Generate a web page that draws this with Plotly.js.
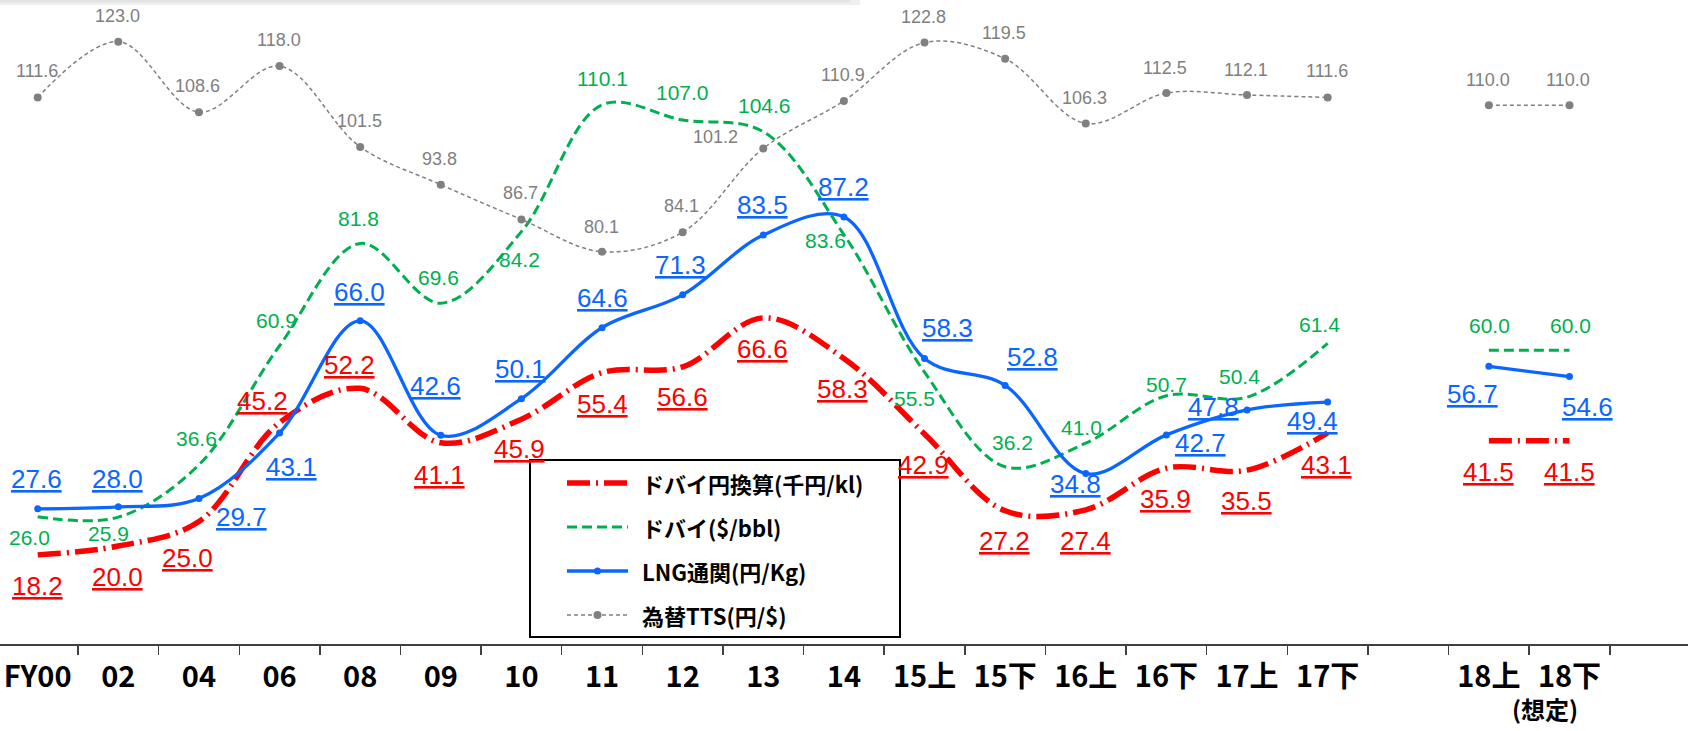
<!DOCTYPE html>
<html>
<head>
<meta charset="utf-8">
<script src="https://cdn.plot.ly/plotly-3.0.1.min.js"></script>
<style>
html,body{margin:0;padding:0;background:#ffffff;}
#chart{width:1694px;height:731px;}
</style>
</head>
<body>
<div id="chart"></div>
<script>
// ---------- data ----------
const categories = ['FY00','02','04','06','08','09','10','11','12','13','14','15上','15下','16上','16下','17上','17下',' ','18上','18下'];
const dubaiYen = [18.2,20.0,25.0,45.2,52.2,41.1,45.9,55.4,56.6,66.6,58.3,42.9,27.2,27.4,35.9,35.5,43.1,null,41.5,41.5];
const dubaiUsd = [26.0,25.9,36.6,60.9,81.8,69.6,84.2,110.1,107.0,104.6,83.6,55.5,36.2,41.0,50.7,50.4,61.4,null,60.0,60.0];
const lngPrice = [27.6,28.0,29.7,43.1,66.0,42.6,50.1,64.6,71.3,83.5,87.2,58.3,52.8,34.8,42.7,47.8,49.4,null,56.7,54.6];
const ttsRate  = [111.6,123.0,108.6,118.0,101.5,93.8,86.7,80.1,84.1,101.2,110.9,122.8,119.5,106.3,112.5,112.1,111.6,null,110.0,110.0];
const seriesNames = ['ドバイ円換算(千円/kl)','ドバイ($/bbl)','LNG通関(円/Kg)','為替TTS(円/$)'];
const footnoteText = '(想定)';

// ---------- label placement (pixel offsets dx, dy; dy positive = down) ----------
const offRed = [[0,31],[-1,31],[-11,36],[-17,-22],[-11,-23],[-1,32],[-2,30],[0,31],[0,30],[-1,31],[-1,31],[-1,31],[-1,30],[0,31],[-1,31],[-1,31],[-1,32],null,[0,31],[0,31]];
const offGreen = [[-8,21],[-10,16],[-2,-26],[-3,-25],[-2,-25],[-2,-26],[-2,28],[0,-26],[0,-27],[1,-26],[-18,6],[-10,26],[7,-24],[-4,-16],[0,-11],[-8,-21],[-8,-19],null,[1,-25],[1,-25]];
const offBlue = [[-1,-30],[-1,-28],[43,18],[12,34],[-1,-29],[-5,-49],[-1,-30],[0,-30],[-2,-30],[-1,-30],[0,-30],[23,-30],[27,-28],[-10,10],[34,8],[-34,-3],[-15,19],null,[-16,28],[18,30]];
const offGray = [[-1,-26],[-1,-26],[-1,-26],[-1,-26],[-1,-26],[-1,-26],[-1,-26],[-1,-25],[-1,-26],[-48,-11],[-1,-26],[-1,-26],[-1,-26],[-1,-25],[-1,-25],[-1,-25],[-1,-26],null,[-1,-25],[-1,-25]];

const RED = '#ff0000', GREEN = '#00b050', BLUE = '#0a66ff', GRAY = '#808080';
const NUMFONT = 'Liberation Sans, Arial, sans-serif';
const JPFONT = 'Noto Sans CJK JP, sans-serif';

const W = 1694, H = 731, ML = 0, MR = 6, MT = 0, MB = 87;
const PW = W - ML - MR, PH = H - MT - MB;
const px2x = p => (p - ML) / PW;
const px2y = p => 1 - (p - MT) / PH;

const redDash = '23px,6px,2px,6px';
const greenDash = '10px,5px';
const grayDash = '4px,3px';

const traces = [
  {x: categories, y: dubaiYen, name: seriesNames[0], type: 'scatter', mode: 'lines',
   line: {color: RED, width: 5.5, dash: redDash, shape: 'spline', smoothing: 1}, connectgaps: false, hoverinfo: 'skip'},
  {x: categories, y: dubaiUsd, name: seriesNames[1], type: 'scatter', mode: 'lines',
   line: {color: GREEN, width: 3, dash: greenDash, shape: 'spline', smoothing: 1}, connectgaps: false, hoverinfo: 'skip'},
  {x: categories, y: lngPrice, name: seriesNames[2], type: 'scatter', mode: 'lines+markers',
   line: {color: BLUE, width: 3.3, shape: 'spline', smoothing: 1}, marker: {color: BLUE, size: 7},
   connectgaps: false, hoverinfo: 'skip'},
  {x: categories, y: ttsRate, name: seriesNames[3], type: 'scatter', mode: 'lines+markers',
   line: {color: GRAY, width: 1.5, dash: grayDash, shape: 'spline', smoothing: 1}, marker: {color: GRAY, size: 8},
   connectgaps: false, hoverinfo: 'skip'}
];

const annotations = [];
function addLabels(vals, offs, color, size, underline) {
  vals.forEach((v, i) => {
    if (v === null || offs[i] === null) return;
    const t = v.toFixed(1);
    annotations.push({
      x: i, y: v, xref: 'x', yref: 'y',   // category index on the category axis
      text: underline ? '<u>' + t + '</u>' : t,
      showarrow: false, xshift: offs[i][0], yshift: -offs[i][1],
      font: {family: NUMFONT, size: size, color: color}
    });
  });
}
addLabels(ttsRate, offGray, '#7f7f7f', 18, false);
addLabels(dubaiUsd, offGreen, GREEN, 21, false);
addLabels(lngPrice, offBlue, BLUE, 26, true);
addLabels(dubaiYen, offRed, RED, 26, true);

// footnote under 18下
annotations.push({xref: 'paper', yref: 'paper', x: px2x(1545), y: px2y(708), xanchor: 'center', yanchor: 'middle',
  text: '<b>' + footnoteText + '</b>', showarrow: false, font: {family: JPFONT, size: 24, color: '#000'}});

// ---------- manual legend ----------
const shapes = [];
// faint shadow strip at top
shapes.push({type: 'rect', xref: 'paper', yref: 'paper', x0: px2x(0), x1: px2x(860), y0: px2y(5), y1: px2y(0),
  fillcolor: '#efefef', line: {width: 0}, layer: 'below'});
shapes.push({type: 'rect', xref: 'paper', yref: 'paper', x0: px2x(0), x1: px2x(850), y0: px2y(2.5), y1: px2y(0),
  fillcolor: '#e3e3e3', line: {width: 0}, layer: 'below'});

const LBX0 = 530, LBX1 = 900, LBY0 = 460, LBY1 = 637;
shapes.push({type: 'rect', xref: 'paper', yref: 'paper', x0: px2x(LBX0), x1: px2x(LBX1), y0: px2y(LBY1), y1: px2y(LBY0),
  fillcolor: '#ffffff', line: {color: '#000000', width: 2}, layer: 'above'});
const rowsY = [483, 527, 571, 615];
const sampleX0 = 567, sampleX1 = 628, textX = 640;
const legendStyles = [
  {color: RED, width: 5.5, dash: redDash, marker: 0},
  {color: GREEN, width: 3, dash: greenDash, marker: 0},
  {color: BLUE, width: 3.3, dash: 'solid', marker: 3.5},
  {color: GRAY, width: 1.5, dash: grayDash, marker: 4}
];
legendStyles.forEach((s, k) => {
  const yy = rowsY[k];
  shapes.push({type: 'line', xref: 'paper', yref: 'paper', x0: px2x(sampleX0), x1: px2x(sampleX1), y0: px2y(yy), y1: px2y(yy),
    line: {color: s.color, width: s.width, dash: s.dash}, layer: 'above'});
  if (s.marker > 0) {
    const cx = (sampleX0 + sampleX1) / 2, r = s.marker;
    shapes.push({type: 'circle', xref: 'paper', yref: 'paper', x0: px2x(cx - r), x1: px2x(cx + r), y0: px2y(yy + r), y1: px2y(yy - r),
      fillcolor: s.color, line: {color: s.color, width: 0}, layer: 'above'});
  }
  annotations.push({xref: 'paper', yref: 'paper', x: px2x(textX), y: px2y(yy), xanchor: 'left', yanchor: 'middle',
    text: '<b>' + seriesNames[k] + '</b>', showarrow: false, font: {family: JPFONT, size: 22, color: '#000'}});
});

const layout = {
  width: W, height: H,
  margin: {l: ML, r: MR, t: MT, b: MB, pad: 0},
  paper_bgcolor: '#ffffff', plot_bgcolor: '#ffffff',
  showlegend: false,
  xaxis: {
    type: 'category', categoryorder: 'array', categoryarray: categories,
    range: [-0.4676, 20.47], fixedrange: true,
    showline: true, linecolor: '#404040', linewidth: 2,
    ticks: 'outside', tickson: 'boundaries', ticklen: 9, tickwidth: 1.5, tickcolor: '#404040',
    showgrid: false, zeroline: false, ticklabelstandoff: 6, tickangle: 0,
    tickfont: {family: 'Liberation Sans Narrow, Noto Sans CJK JP, sans-serif', size: 29, color: '#000', weight: 'bold'}
  },
  yaxis: {range: [0, 131.5], visible: false, fixedrange: true, showgrid: false, zeroline: false},
  annotations: annotations,
  shapes: shapes
};

Plotly.newPlot('chart', traces, layout, {displayModeBar: false, staticPlot: true});
</script>
</body>
</html>
